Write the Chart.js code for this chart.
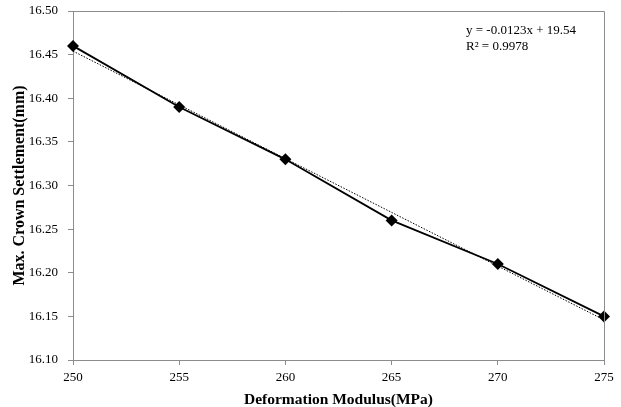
<!DOCTYPE html>
<html>
<head>
<meta charset="utf-8">
<script src="https://cdn.jsdelivr.net/npm/chart.js@4.4.0/dist/chart.umd.min.js"></script>
<style>
  html, body { margin: 0; padding: 0; background: #fff; }
  #wrap { width: 621px; height: 407px; }
</style>
</head>
<body>
<div id="wrap"><canvas id="chart" width="621" height="407"></canvas></div>
<script>
// data
const modulus = [250, 255, 260, 265, 270, 275]
const settlement = [16.46, 16.39, 16.33, 16.26, 16.21, 16.15]
// linear trendline end points (as drawn)
const trendX = [250, 275]
const trendY = [16.454, 16.146]
const equationLines = ['y = -0.0123x + 19.54', 'R\u00b2 = 0.9978']

const serif = "'Liberation Serif', 'Times New Roman', serif"

// gray box on top and right side of plot area + the trend equation
const framePlugin = {
  id: 'frame',
  afterDraw(chart) {
    const ctx = chart.ctx
    const a = chart.chartArea
    ctx.save()
    ctx.strokeStyle = '#8c8c8c'
    ctx.lineWidth = 1
    ctx.beginPath()
    ctx.moveTo(a.left, a.top + 0.5)
    ctx.lineTo(a.right + 0.5, a.top + 0.5)
    ctx.lineTo(a.right + 0.5, a.bottom)
    ctx.stroke()
    ctx.fillStyle = '#000'
    ctx.font = '13px ' + serif
    ctx.textBaseline = 'top'
    ctx.fillText(equationLines[0], 466, 24)
    ctx.fillText(equationLines[1], 466, 40)
    ctx.restore()
  }
}

const chart = new Chart(document.getElementById('chart'), {
  type: 'scatter',
  data: {
    datasets: [
      {
        label: 'settlement',
        data: modulus.map((x, i) => ({ x: x, y: settlement[i] })),
        showLine: true,
        borderColor: '#000',
        backgroundColor: '#000',
        borderWidth: 1.8,
        pointStyle: 'rectRot',
        pointRadius: 6,
        pointBorderWidth: 0,
        clip: false,
      },
      {
        label: 'trend',
        data: trendX.map((x, i) => ({ x: x, y: trendY[i] })),
        showLine: true,
        borderColor: '#000',
        borderWidth: 1,
        borderDash: [1.5, 1.5],
        pointRadius: 0,
      },
    ],
  },
  options: {
    responsive: false,
    animation: false,
    layout: { autoPadding: false, padding: { top: 11, right: 17, left: 10, bottom: 0 } },
    plugins: {
      legend: { display: false },
      tooltip: { enabled: false },
    },
    scales: {
      x: {
        type: 'linear',
        min: 250,
        max: 275,
        afterFit(scale) { scale.height = 47 },
        ticks: {
          stepSize: 5,
          color: '#000',
          font: { family: serif, size: 13 },
          padding: 5,
        },
        grid: {
          drawOnChartArea: false,
          tickLength: 5,
          color: '#8c8c8c',
        },
        border: { color: '#8c8c8c', width: 1 },
        title: {
          display: true,
          text: 'Deformation Modulus(MPa)',
          color: '#000',
          font: { family: serif, size: 15.5, weight: 'bold' },
          padding: { top: 4, bottom: -2 },
        },
      },
      y: {
        min: 16.1,
        max: 16.5,
        afterFit(scale) { scale.width = 63 },
        ticks: {
          stepSize: 0.05,
          color: '#000',
          font: { family: serif, size: 13 },
          padding: 3,
          callback: (v) => v.toFixed(2),
        },
        grid: {
          drawOnChartArea: false,
          // long tick slot, only the inner 5px is drawn
          tickLength: 12,
          tickBorderDash: [5, 7],
          tickBorderDashOffset: 5,
          color: '#8c8c8c',
        },
        border: { color: '#8c8c8c', width: 1 },
        title: {
          display: true,
          text: 'Max. Crown Settlement(mm)',
          color: '#000',
          font: { family: serif, size: 16, weight: 'bold' },
          padding: 0,
        },
      },
    },
  },
  plugins: [framePlugin],
})
</script>
</body>
</html>
